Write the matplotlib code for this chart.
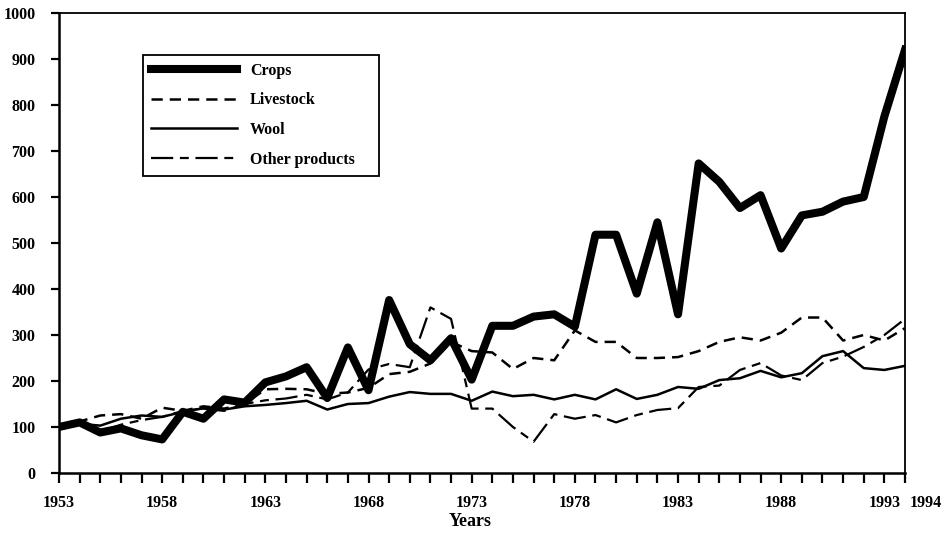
import matplotlib.pyplot as plt
import matplotlib.transforms as mtransforms

plt.rcParams['font.family'] = ['Liberation Serif', 'DejaVu Serif']
plt.rcParams['font.weight'] = 'bold'

years = list(range(1953, 1995))

crops = [100, 110, 88, 97, 82, 73, 133, 118, 160, 153, 197, 210, 230, 163, 273,
         180, 376, 280, 245, 293, 203, 320, 320, 340, 345, 318, 518, 518, 390,
         545, 345, 673, 633, 576, 604, 488, 560, 568, 590, 600, 775, 920]
livestock = [100, 112, 125, 128, 118, 142, 135, 145, 140, 150, 182, 183, 182, 172,
             175, 185, 215, 220, 238, 285, 265, 262, 226, 250, 245, 310, 285, 285,
             250, 250, 252, 265, 285, 295, 288, 305, 338, 338, 288, 300, 288, 315]
wool = [100, 107, 103, 118, 125, 122, 133, 141, 138, 145, 148, 152, 157, 138, 150,
        152, 166, 176, 172, 172, 157, 177, 167, 170, 160, 170, 160, 182, 161, 170,
        187, 183, 202, 206, 222, 208, 217, 254, 265, 228, 224, 233]
other = [100, 105, 90, 105, 115, 122, 135, 140, 135, 150, 158, 162, 170, 160, 175,
         225, 237, 230, 360, 335, 140, 140, 100, 68, 128, 118, 126, 110, 126, 137,
         141, 187, 190, 224, 239, 212, 202, 239, 253, 274, 300, 335]

labelled_years = [1953, 1958, 1963, 1968, 1973, 1978, 1983, 1988, 1993, 1994]
yticks = list(range(0, 1001, 100))

fig = plt.figure(figsize=(9.45, 5.35), dpi=100)
ax = fig.add_axes([59 / 945, 62 / 535, 846 / 945, 460 / 535])

ax.plot(years, crops, color='black', lw=5.8, solid_joinstyle='round', label='Crops', zorder=5)
ax.plot(years, livestock, color='black', lw=1.8, dashes=(4.5, 2.8), label='Livestock', zorder=4)
ax.plot(years, wool, color='black', lw=1.8, label='Wool', zorder=3)
ax.plot(years, other, color='black', lw=1.6, dashes=(10, 3, 4, 3), label='Other products', zorder=4)

ax.set_xlim(1953, 1994)
ax.set_ylim(0, 1000)

# every year gets a tick, only some get a label
ax.set_xticks(years)
ax.set_xticklabels([str(y) if y in labelled_years else '' for y in years])
ax.set_yticks(yticks)
ax.set_yticklabels([str(v) for v in yticks])

ax.tick_params(axis='x', direction='out', length=7, width=1.6, pad=9, labelsize=11.5)
ax.tick_params(axis='y', direction='out', length=6, width=1.6, pad=11, labelsize=11.5)

# last label sits to the right of the axis end
offset = mtransforms.ScaledTranslation(21 / 100, 0, fig.dpi_scale_trans)
lbl = ax.get_xticklabels()[-1]
lbl.set_transform(lbl.get_transform() + offset)

for side in ['left', 'bottom']:
    ax.spines[side].set_linewidth(1.8)
for side in ['top', 'right']:
    ax.spines[side].set_linewidth(1.3)

fig.text(470 / 945, 1 - 521 / 535, 'Years', ha='center', va='center', fontsize=13, fontweight='bold')

leg = ax.legend(loc='upper left', bbox_to_anchor=(0.0993, 0.637, 0.279, 0.272), mode='expand',
                borderaxespad=0, handlelength=5.4, handletextpad=0.8, labelspacing=0.85,
                borderpad=0.5, fancybox=False, frameon=True,
                prop={'size': 11.5, 'weight': 'bold'})
leg.get_frame().set_edgecolor('black')
leg.get_frame().set_linewidth(1.3)
leg.get_frame().set_alpha(1)

plt.savefig('out.png', dpi=100)
